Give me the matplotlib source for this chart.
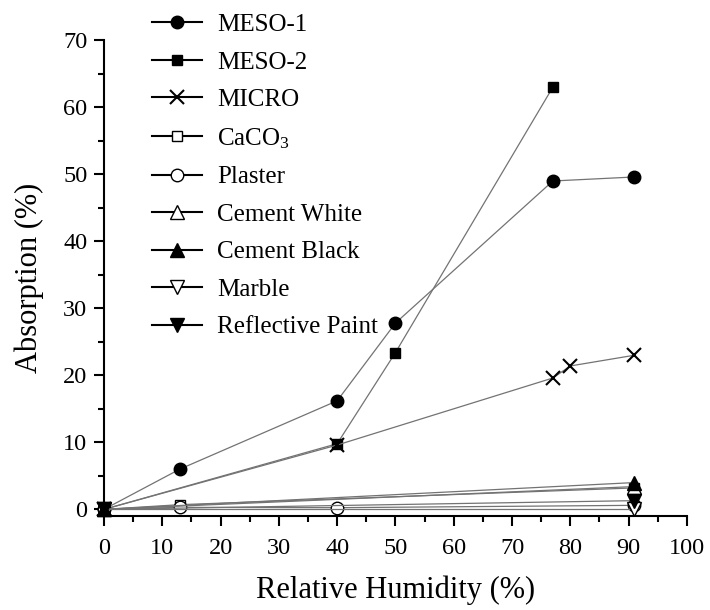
import numpy as np
import matplotlib.pyplot as plt
from matplotlib.ticker import MultipleLocator

plt.rcParams['font.family'] = ['Liberation Serif', 'DejaVu Serif']
plt.rcParams['mathtext.fontset'] = 'custom'
plt.rcParams['mathtext.rm'] = 'Liberation Serif'
plt.rcParams['mathtext.it'] = 'Liberation Serif:italic'

# Data: relative humidity (%) vs absorption (%)
meso1_rh = [0, 13, 40, 50, 77, 91]
meso1_abs = [0, 6.0, 16.2, 27.8, 49.0, 49.6]

meso2_rh = [0, 40, 50, 77]
meso2_abs = [0, 9.8, 23.4, 63.0]

micro_rh = [0, 40, 77, 80, 91]
micro_abs = [0, 9.6, 19.6, 21.4, 23.0]

caco3_rh = [0, 13, 91]
caco3_abs = [0, 0.7, 3.2]

plaster_rh = [0, 13, 40, 91]
plaster_abs = [0, 0.3, 0.25, 0.6]

cem_white_rh = [0, 91]
cem_white_abs = [0, 3.4]

cem_black_rh = [0, 91]
cem_black_abs = [0, 4.0]

marble_rh = [0, 91]
marble_abs = [0, 0.0]

paint_rh = [0, 91]
paint_abs = [0, 1.3]

series = [
    ('MESO-1', meso1_rh, meso1_abs, 'o', 'k', 9),
    ('MESO-2', meso2_rh, meso2_abs, 's', 'k', 7.5),
    ('MICRO', micro_rh, micro_abs, 'x', 'k', 10),
    ('CaCO$_3$', caco3_rh, caco3_abs, 's', 'w', 7.5),
    ('Plaster', plaster_rh, plaster_abs, 'o', 'w', 9),
    ('Cement White', cem_white_rh, cem_white_abs, '^', 'w', 10),
    ('Cement Black', cem_black_rh, cem_black_abs, '^', 'k', 10),
    ('Marble', marble_rh, marble_abs, 'v', 'w', 10),
    ('Reflective Paint', paint_rh, paint_abs, 'v', 'k', 10),
]

fig = plt.figure(figsize=(7.1, 6.1), dpi=100)
ax = fig.add_axes([0.1465, 0.154, 0.821, 0.780])

for label, x, y, m, fc, ms in series:
    ax.plot(x, y, color='0.45', lw=0.9, marker=m, ms=ms, mfc=fc, mec='k',
            mew=1.5 if m == 'x' else 1.0, label=label, clip_on=False)

ax.set_xlim(0, 100)
ax.set_ylim(-1, 70)
ax.xaxis.set_major_locator(MultipleLocator(10))
ax.xaxis.set_minor_locator(MultipleLocator(5))
ax.yaxis.set_major_locator(MultipleLocator(10))
ax.yaxis.set_minor_locator(MultipleLocator(5))

for side in ['top', 'right']:
    ax.spines[side].set_visible(False)
for side in ['left', 'bottom']:
    ax.spines[side].set_linewidth(1.5)

ax.tick_params(which='both', direction='out', width=1.5, labelsize=17.5)
ax.tick_params(which='major', length=7)
ax.tick_params(axis='x', which='major', pad=9)
ax.tick_params(axis='y', which='major', pad=5)
ax.tick_params(which='minor', length=4)

ax.set_xlabel('Relative Humidity (%)', fontsize=22, labelpad=12)
ax.set_ylabel('Absorption (%)', fontsize=22, labelpad=14)

leg = fig.legend(loc='upper left', bbox_to_anchor=(0.2, 0.994), frameon=False,
                 fontsize=18, handlelength=2.0, handletextpad=0.6,
                 labelspacing=0.6, borderaxespad=0)
for h in leg.legend_handles:
    h.set_color('k')
    h.set_linewidth(1.5)

fig.savefig('out.png', dpi=100)
